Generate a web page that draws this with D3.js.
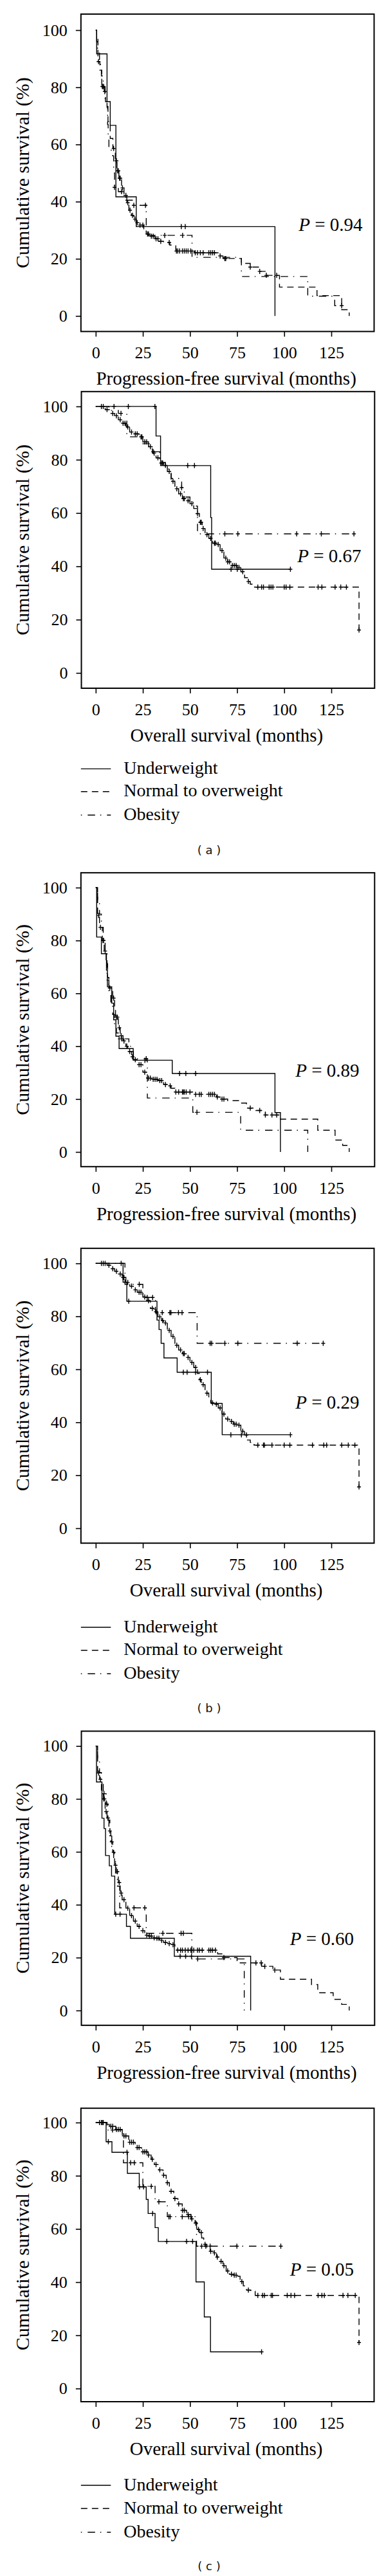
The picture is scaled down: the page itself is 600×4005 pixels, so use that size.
<!DOCTYPE html>
<html><head><meta charset="utf-8">
<script src="https://cdn.jsdelivr.net/npm/d3@7"></script>
<style>body{margin:0;background:#fff}svg{display:block}</style>
</head><body>
<svg id="chart" width="600" height="4005"></svg>
<script>
// ---------------- DATA ----------------
const groups = ["Underweight", "Normal to overweight", "Obesity"];
const xTicks = [0, 25, 50, 75, 100, 125];
const yTicks = [0, 20, 40, 60, 80, 100];
const yTitle = "Cumulative survival (%)";
const xTitlePFS = "Progression-free survival (months)";
const xTitleOS = "Overall survival (months)";
const pValues = ["0.94", "0.67", "0.89", "0.29", "0.60", "0.05"];
const subLabels = ["( a )", "( b )", "( c )"];

// Panel (a) PFS: [months, survival %] steps and censor times
const pfsA_under = [[0,100],[0.5,91.7],[6.0,75],[7.7,66.7],[10.7,41.7],[21.5,31.25],[95.1,0]];
const pfsA_underCens = [45.4,47.5];
const pfsA_normal = [[0,100],[0.5,97],[1.2,89],[2.2,86],[3.2,80.3],[4.5,78.5],[5.2,75],[5.8,73.3],[6.5,68],[7.7,62.1],[9.1,58.6],[10.4,54.3],[11.3,50.8],[12.3,48.2],[13.7,44.8],[15,42.2],[16.5,39.6],[17.6,37],[18.9,35.2],[20.2,33.9],[21.5,32.6],[22.8,31.8],[25.5,30.5],[26.8,28.7],[28.8,27.9],[31.4,27],[33.4,26.1],[36,25.7],[39.3,24.8],[42.5,22.7],[52.4,22.1],[64.9,21],[67.5,20.1],[77.3,18.4],[82,17.1],[87,15.6],[90.5,14.2],[97.5,10.1],[117.4,7.1],[130.5,2.2],[134.5,0]];
const pfsA_normalCens = [1.5,3.5,3.8,4.2,4.8,9.5,11,11.6,12,12.6,13,14.2,16,17,18.2,19.5,20.8,22,23.5,25,27.5,28,29.5,30.5,32,33,34.5,39,42.8,43.5,44.5,46,47,48,49,50.4,52.8,54,55.5,57,60,61,62,63,66,68.5,69,82,87,90.5,96];
const pfsA_obese = [[0,100],[0.5,96],[1,92],[2,88],[3,84],[4,80],[5,76],[6,73],[6.3,67],[6.6,62],[7,58],[9,56],[9.5,50],[10,45],[12,43.5],[15,40.5],[20,38.7],[26.8,28.2],[51.1,20.5],[77.3,13.8],[112.5,6.9],[126.8,3.6]];
const pfsA_obeseCens = [10,13.7,20.2,26.4,36.6,46.1,130.5];

// Panel (a) OS
const osA_under = [[0,100],[32,88.9],[34.4,77.8],[61.0,58.3],[61.5,38.9]];
const osA_underCens = [9.7,17.3,31.4,48.8,52.4,71.8,75.1,103.3];
const osA_normal = [[0,100],[5,98.8],[8,97.4],[10,96.5],[12,95],[14,93.7],[16,92.3],[18,90.4],[20,89.7],[23,88.6],[25,86.7],[28,84.9],[30,82.5],[32,80.7],[34,78.8],[36,77.9],[38,75.6],[40,71.9],[42,69.1],[44,67.2],[46,65.4],[48,64.6],[50,63.5],[52,61.7],[53.5,59.8],[55,56.5],[56.5,54.2],[58,51.9],[60,50.5],[62,48.7],[64,48.2],[66,45.9],[68,43.1],[70,41.7],[72,40.3],[75,39.6],[77,38],[79,35.7],[80.5,34.3],[82,33.3],[84,32.2],[139.7,16.1]];
const osA_normalCens = [3,4,6,9,11,13,14.5,15.5,17,19,21,22,24,24.5,26,27,29,31,33,35,35.5,37,39,41,43,45,46.5,47,49,51,54,55.5,56,57,59,61,63,63.5,65,67,69,70,71,72.5,73.5,74.5,76,78,81,86,88,89,92,93,94,100,101,103,118,120,127,130,133,139.7];
const osA_obese = [[0,100],[7,98.5],[12,97.4],[16.5,88.6],[25,86],[30,83],[34,79],[37,76.5],[40,73],[45.6,69.5],[47,66],[50,64],[53.4,62.6],[54,52.2]];
const osA_obeseCens = [13.4,30.5,45.6,68.5,75.4,106.6,119.7,137];

// Panel (b) PFS
const pfsB_under = [[0,100],[0.5,81.3],[3,75],[5.7,68.8],[6.2,62.5],[8.5,56.3],[9.5,50],[10.7,43.8],[12.4,39.1],[19.9,34.7],[40.6,29.7],[95.1,14.9],[98,0]];
const pfsB_underCens = [26.1,44.5,47.8,53];
const pfsB_normal = [[0,100],[1,89.5],[2,85],[3.5,80],[4.5,76],[5.5,72.7],[6.3,66],[7,62],[9,58.2],[10,55],[10.5,51],[12,47],[13,44],[14.5,42],[16,40],[17,38],[19,36],[20,34.9],[22,33],[25,30.2],[27,27.9],[30,27.5],[33,27],[36,25.5],[38,25],[40,24.1],[42,22.7],[52,21.8],[64,20.8],[66,20],[70,19.4],[77,18.5],[80,16.6],[85,15.7],[90,14],[98,12.4],[117.8,8.2],[127,4.5],[131,2.5],[134.5,0]];
const pfsB_normalCens = [1.5,2.5,3.8,4.2,5,7.5,9.5,11,11.5,12.5,13.5,15,16.5,18,19.5,21,23,24,26,28,29,30.5,31.5,32.5,34,35,37,39.5,42.5,44,46,46.5,47,48,50,53,55,56,60,61,62,63,64.5,67,68,82,87,90,93.5,96];
const pfsB_obese = [[0,100],[1,95],[2,90],[3,85],[4,80],[5,75],[6,65],[7,60],[8,56],[9,52],[10,48],[11,45],[12,42.8],[17.6,40],[19,38],[20,35.3],[27.4,20.4],[51.5,15],[76.9,8.2],[112.5,0]];
const pfsB_obeseCens = [13.7,26.8,53.7];

// Panel (b) OS
const osB_under = [[0,100],[14.5,92.9],[16.5,85.7],[32.5,78.6],[33.6,75],[34.7,69.8],[36.2,64.3],[43.2,58.9],[61.3,47.1],[67.1,35.3]];
const osB_underCens = [17.5,46.5,48.5,53,59.3,71.7,77.3,103.3];
const osB_normal = [[0,100],[6,99.3],[8,98],[10,97],[12,96],[14,94.7],[16,92.8],[18,91.4],[20,90],[22,89.1],[25,87.3],[27,85.9],[29,83],[31,81.7],[33,79.8],[35,78.4],[36,77.5],[38,74.7],[40,72.4],[42,69.1],[44,67.3],[46,65.9],[48,64.5],[50,62.6],[52,60.7],[54,58.4],[55,56.1],[56,54.2],[58,51],[60,49.6],[61,47.3],[63,46.8],[65,45.4],[67,43.1],[69,41.2],[71,40.3],[73,39.3],[75,38.9],[77,36.6],[79,35.2],[80.5,33.3],[82,32.4],[84,31.4],[139.7,15.6]];
const osB_normalCens = [3,4,5,7,9,11,13,14.5,15,17,19,21,23,24,26,28,30,32,34,35.5,37,39,41,43,45,46.5,47,49,51,53,55.5,57,59,62,64,66,68,70,72,73.5,74.5,76,78,80,86,89,89.5,93.5,100,103,115,121,122.5,130.5,134,137.5,139.7];
const osB_obese = [[0,100],[15.5,92.1],[25,87.1],[31.7,81.4],[53.8,69.8]];
const osB_obeseCens = [13.5,23.1,27.3,30.2,35.3,39.3,39.9,43.9,45.8,60.7,61.5,68.5,75.4,106.9,120.7];

// Panel (c) PFS
const pfsC_under = [[0,100],[0.4,86.4],[3.3,72.7],[4.4,68.8],[5.2,58.6],[7.2,54.7],[8.4,50.8],[10.1,36.4],[16.3,31.8],[18.4,27.3],[41.7,20.5],[82.2,0]];
const pfsC_underCens = [10.6,12.9,44.8,47.7,50.8];
const pfsC_normal = [[0,100],[1,89.8],[2,87.4],[3,82],[4,80],[5,75.2],[6,72.8],[7,67.9],[8,63.8],[9,59.8],[10,54.9],[11,52.5],[12,48.4],[13,44.4],[14,41.9],[16,38.7],[18,35.9],[20,33.8],[22,31.8],[24,30.2],[26,28.5],[28,28.1],[30,27.5],[32,27.3],[34,26.5],[36,25.7],[38,25.3],[40,24.9],[42,23.6],[43,22.8],[64.7,21.4],[68,20],[75,18],[88,16.7],[94,15.3],[98,11.8],[114.5,9.8],[117.8,6.7],[126,4.2],[130.5,2.3],[134.5,0]];
const pfsC_normalCens = [1.5,2.5,4.2,4.6,5.5,6.5,7.5,8.5,9.5,10.5,11.5,12.5,13.5,15,17,19,21,23,25,27,28.5,29.5,31,32.5,33.5,35,37,39,41,43.5,45,46,47.5,49,50.5,52,54,55,56.5,60,61,62,63.5,68,85,87.8,89.7,95];
const pfsC_obese = [[0,100],[1,95],[2,90],[3,86],[4,82],[5.5,78],[6.5,72],[7.5,66],[8.5,62],[9.5,57],[10.5,52],[11.5,47],[12.7,38.8],[26.8,29.2],[51,19.5],[78.8,0]];
const pfsC_obeseCens = [4.4,5.9,20.3,26,35.6,45.3,46.5,54.1];

// Panel (c) OS
const osC_under = [[0,100],[5.5,92.8],[8.6,88.8],[16.8,80.9],[23.1,75.8],[26.8,71.1],[27.8,65.8],[31.5,60.5],[33.2,55.3],[53.2,40.1],[57.6,26.9],[60.9,13.8]];
const osC_underCens = [6.7,16.6,23.2,25.4,30.2,37.7,48.2,51.4,88];
const osC_normal = [[0,100],[6,99.3],[7.2,98.6],[10.6,97.4],[14.1,95],[17.5,92.6],[20.9,90.6],[24.3,89],[27.7,87.8],[29.4,86.2],[31.1,84.2],[33.4,82.2],[35.7,80.2],[37.4,77.4],[39.1,74.2],[41.4,71.4],[43.6,69.4],[45.9,67],[48.2,65.4],[50.5,63.8],[52.7,62.2],[53.9,59.8],[55,58.6],[56.2,56.6],[57.3,54.2],[59,53],[60.7,51.6],[62.4,51],[64.1,49.4],[65.8,47.8],[67.5,46.2],[69.2,44.2],[70.9,43],[73.2,42.6],[74.9,42.2],[76.6,40.2],[78.3,38.6],[80,37],[82.3,36.6],[84.6,35],[139.7,17.3]];
const osC_normalCens = [2,3,3.5,4,8,9,11,12,13,15,16,18,19,20,22,23,25,26,27,28,30,32,34,36,38,40,42,44,46,47,49,51,53,54.5,56,58,61,63,64.5,66.5,68,70,72,73.5,74.5,77.5,81,86,88.5,89.5,93.1,93.8,101.6,103.6,105.5,118,120,121.3,131.2,133.8,137.7,139.7];
const osC_obese = [[0,100],[6,97.2],[14.7,84.9],[25,76],[31.5,70.2],[38,64.6],[53.5,53.5]];
const osC_obeseCens = [8.9,18.5,20.5,29.5,33.5,38.8,39.5,45.9,49.3,50.5,56.2,58.4,60.7,74.9,98.2];

// ---------------- LAYOUT ----------------
const FONT = "'Liberation Serif', 'Times New Roman', serif";
const dashes = [null, "10,7", "1.5,9,11.5,8"];
const panels = [
  {frame:[125.8,21.9,581.5,515.4], y100:46.9, y0:491.2, xTitle:xTitlePFS, p:pValues[0], pPos:[563.5,358.5],
   series:[[pfsA_under,pfsA_underCens],[pfsA_normal,pfsA_normalCens],[pfsA_obese,pfsA_obeseCens]]},
  {frame:[126.5,608.8,582.3,1070], y100:631.9, y0:1046.2, xTitle:xTitleOS, p:pValues[1], pPos:[561.5,873.5],
   series:[[osA_under,osA_underCens],[osA_normal,osA_normalCens],[osA_obese,osA_obeseCens]]},
  {frame:[125.8,1356.9,582.3,1813.8], y100:1380, y0:1791, xTitle:xTitlePFS, p:pValues[2], pPos:[558.5,1673.8],
   series:[[pfsB_under,pfsB_underCens],[pfsB_normal,pfsB_normalCens],[pfsB_obese,pfsB_obeseCens]]},
  {frame:[125.8,1940.8,581.5,2399.2], y100:1964.2, y0:2376, xTitle:xTitleOS, p:pValues[3], pPos:[558.5,2190],
   series:[[osB_under,osB_underCens],[osB_normal,osB_normalCens],[osB_obese,osB_obeseCens]]},
  {frame:[126.5,2691.5,582.3,3148.8], y100:2714.6, y0:3125.8, xTitle:xTitlePFS, p:pValues[4], pPos:[550,3023.8],
   series:[[pfsC_under,pfsC_underCens],[pfsC_normal,pfsC_normalCens],[pfsC_obese,pfsC_obeseCens]]},
  {frame:[125.8,3277.7,581.5,3734], y100:3300, y0:3713.5, xTitle:xTitleOS, p:pValues[5], pPos:[550,3538],
   series:[[osC_under,osC_underCens],[osC_normal,osC_normalCens],[osC_obese,osC_obeseCens]]}
];
const legends = [
  {rows:[1195.4,1230.8,1267.3], label:subLabels[0], labelY:1327.7},
  {rows:[2530,2565.8,2602.3], label:subLabels[1], labelY:2661.5},
  {rows:[3864,3900,3937], label:subLabels[2], labelY:3996}
];

// ---------------- DRAW ----------------
const svg = d3.select("#chart");
const x = d3.scaleLinear().domain([0,125]).range([148.8,515]);

panels.forEach((P, i) => {
  const [L,T,R,B] = P.frame;
  const y = d3.scaleLinear().domain([0,100]).range([P.y0, P.y100]);
  const g = svg.append("g");

  const clipId = "clip" + i;
  g.append("clipPath").attr("id", clipId).append("rect")
    .attr("x", L).attr("y", T).attr("width", R-L).attr("height", B-T);

  // axes
  const ya = g.append("g").attr("transform", `translate(${L},0)`)
    .call(d3.axisLeft(y).tickValues(yTicks).tickSize(8).tickPadding(13).tickFormat(d3.format("d")));
  const xa = g.append("g").attr("transform", `translate(0,${B})`)
    .call(d3.axisBottom(x).tickValues(xTicks).tickSize(8).tickPadding(15.5).tickFormat(d3.format("d")));
  [ya, xa].forEach(a => {
    a.select(".domain").remove();
    a.selectAll("line").attr("stroke","#000").attr("stroke-width",1.6);
    a.selectAll("text").attr("font-family", FONT).attr("font-size", 26).attr("fill","#000");
  });

  // frame
  g.append("rect").attr("x", L).attr("y", T).attr("width", R-L).attr("height", B-T)
    .attr("fill","none").attr("stroke","#000").attr("stroke-width",2);

  // curves
  const line = d3.line().x(d => x(d[0])).y(d => y(d[1])).curve(d3.curveStepAfter);
  const bis = d3.bisector(d => d[0]).right;
  const cg = g.append("g").attr("clip-path", `url(#${clipId})`);
  P.series.forEach(([steps, cens], k) => {
    const lastT = steps[steps.length-1][0];
    const endT = Math.max(lastT, d3.max(cens) || 0);
    const pts = steps.slice();
    if (endT > lastT) pts.push([endT, steps[steps.length-1][1]]);
    cg.append("path").attr("d", line(pts)).attr("fill","none").attr("stroke","#000")
      .attr("stroke-width",1.4).attr("stroke-dasharray", dashes[k]);
    cens.forEach(t => {
      const idx = Math.max(0, bis(steps, t) - 1);
      const s = steps[idx][1];
      const cx = x(t), cy = y(s);
      cg.append("path").attr("d", `M${cx-3},${cy}H${cx+3}M${cx},${cy-4}V${cy+4}`)
        .attr("stroke","#000").attr("stroke-width",1.4).attr("fill","none");
    });
  });

  // P value
  const pt = g.append("text").attr("x", P.pPos[0]).attr("y", P.pPos[1]).attr("text-anchor","end")
    .attr("font-family", FONT).attr("font-size", 29).attr("fill","#000");
  pt.append("tspan").attr("font-style","italic").text("P");
  pt.append("tspan").text(" = " + P.p);

  // titles
  g.append("text").attr("x", (L+R)/2 - 2).attr("y", B + 83).attr("text-anchor","middle")
    .attr("font-family", FONT).attr("font-size", 29).attr("fill","#000").text(P.xTitle);
  g.append("text").attr("transform", `translate(45,${(T+B)/2}) rotate(-90)`).attr("text-anchor","middle")
    .attr("font-family", FONT).attr("font-size", 30).attr("fill","#000").text(yTitle);
});

legends.forEach(Lg => {
  const g = svg.append("g");
  Lg.rows.forEach((ry, k) => {
    g.append("line").attr("x1",125.8).attr("x2",172.3).attr("y1",ry).attr("y2",ry)
      .attr("stroke","#000").attr("stroke-width",1.4).attr("stroke-dasharray", dashes[k]);
    g.append("text").attr("x",192.3).attr("y", ry + 7.5).attr("font-family", FONT)
      .attr("font-size", 28).attr("fill","#000").text(groups[k]);
  });
  g.append("text").attr("x", 325).attr("y", Lg.labelY).attr("text-anchor","middle")
    .attr("font-family","'DejaVu Sans', sans-serif").attr("font-size",18).attr("fill","#111")
    .attr("xml:space","preserve").style("white-space","pre").text(Lg.label);
});
</script>
</body></html>
